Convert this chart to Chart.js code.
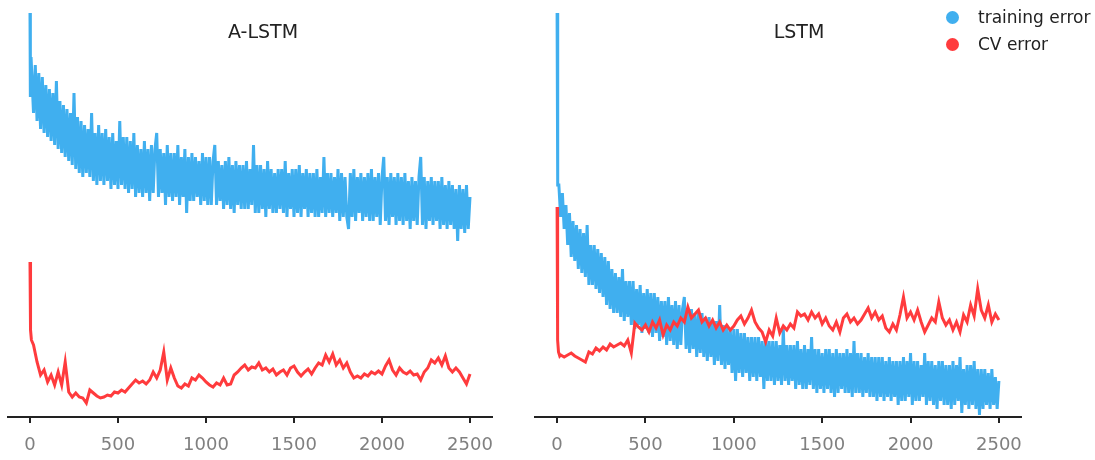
<!DOCTYPE html>
<html>
<head>
<meta charset="utf-8">
<script src="https://cdn.jsdelivr.net/npm/chart.js@4/dist/chart.umd.min.js"></script>
<style>
body { margin: 0; background: #fff; width: 1095px; height: 460px; position: relative; overflow: hidden; font-family: "DejaVu Sans", sans-serif; }
canvas { position: absolute; top: 0; }
#leftChart { left: 0; }
#rightChart { left: 526px; }
.title { position: absolute; top: 31px; transform: translate(-50%, -50%); font-size: 19px; color: #222; line-height: 1; white-space: nowrap; }
.dot { position: absolute; width: 13px; height: 13px; border-radius: 50%; }
.label { position: absolute; left: 978px; transform: translateY(-50%); font-size: 17px; color: #222; line-height: 1; white-space: nowrap; }
</style>
</head>
<body>
<canvas id="leftChart" width="526" height="460"></canvas>
<canvas id="rightChart" width="569" height="460"></canvas>
<div class="title" style="left:263px">A-LSTM</div>
<div class="title" style="left:799px">LSTM</div>
<div class="dot" style="left:946px; top:11px; background:#40afef"></div>
<div class="label" style="top:17px">training error</div>
<div class="dot" style="left:946px; top:38px; background:#ff3b3d"></div>
<div class="label" style="top:44px">CV error</div>
<script>
var tickValues = [0, 500, 1000, 1500, 2000, 2500];

// iteration grid for the CV curves (every 20 steps)
var steps = [20,40,60,80,100,120,140,160,180,200,220,240,260,280,300,320,340,360,380,400,
  420,440,460,480,500,520,540,560,580,600,620,640,660,680,700,720,740,760,780,800,
  820,840,860,880,900,920,940,960,980,1000,1020,1040,1060,1080,1100,1120,1140,1160,1180,1200,
  1220,1240,1260,1280,1300,1320,1340,1360,1380,1400,1420,1440,1460,1480,1500,1520,1540,1560,1580,1600,
  1620,1640,1660,1680,1700,1720,1740,1760,1780,1800,1820,1840,1860,1880,1900,1920,1940,1960,1980,2000,
  2020,2040,2060,2080,2100,2120,2140,2160,2180,2200,2220,2240,2260,2280,2300,2320,2340,2360,2380,2400,
  2420,2440,2460,2480,2500];

// finer grid for the noisy training curves (every 10 steps)
var fineSteps = [10,20,30,40,50,60,70,80,90,100,110,120,130,140,150,160,170,180,190,200,
  210,220,230,240,250,260,270,280,290,300,310,320,330,340,350,360,370,380,390,400,
  410,420,430,440,450,460,470,480,490,500,510,520,530,540,550,560,570,580,590,600,
  610,620,630,640,650,660,670,680,690,700,710,720,730,740,750,760,770,780,790,800,
  810,820,830,840,850,860,870,880,890,900,910,920,930,940,950,960,970,980,990,1000,
  1010,1020,1030,1040,1050,1060,1070,1080,1090,1100,1110,1120,1130,1140,1150,1160,1170,1180,1190,1200,
  1210,1220,1230,1240,1250,1260,1270,1280,1290,1300,1310,1320,1330,1340,1350,1360,1370,1380,1390,1400,
  1410,1420,1430,1440,1450,1460,1470,1480,1490,1500,1510,1520,1530,1540,1550,1560,1570,1580,1590,1600,
  1610,1620,1630,1640,1650,1660,1670,1680,1690,1700,1710,1720,1730,1740,1750,1760,1770,1780,1790,1800,
  1810,1820,1830,1840,1850,1860,1870,1880,1890,1900,1910,1920,1930,1940,1950,1960,1970,1980,1990,2000,
  2010,2020,2030,2040,2050,2060,2070,2080,2090,2100,2110,2120,2130,2140,2150,2160,2170,2180,2190,2200,
  2210,2220,2230,2240,2250,2260,2270,2280,2290,2300,2310,2320,2330,2340,2350,2360,2370,2380,2390,2400,
  2410,2420,2430,2440,2450,2460,2470,2480,2490,2500];

// A-LSTM
var alstmTrainHeadSteps = [0, 1, 3, 6];
var alstmTrainHead = [101, 88, 80, 90];
var alstmTrain = [90,76,88,74,86,72,85,71,83,70,
  82,69,81,68,84,67,79,66,78,65,
  77,64,76,63,81,62,75,61,74,60,
  73,61,72,60,76,59,71,58,73,59,
  71,58,72,59,70,57,71,58,69,57,
  74,58,70,57,70,56,69,57,71,55,
  68,56,67,55,69,56,67,54,68,56,
  67,71,55,67,56,66,53,68,55,66,
  54,66,55,68,53,65,55,67,51,65,
  54,66,54,65,55,64,53,66,54,65,
  53,65,53,64,68,53,64,54,63,52,
  64,53,65,52,63,51,64,53,63,52,
  63,52,64,52,62,53,68,51,63,51,
  63,52,62,50,64,52,62,51,61,51,
  62,52,62,51,64,50,61,52,62,50,
  62,51,63,50,61,52,62,50,61,51,
  61,50,62,50,60,51,65,50,61,51,
  61,50,60,51,62,49,61,50,60,50,
  47,61,50,62,49,60,51,61,49,60,
  50,61,49,62,49,60,50,61,48,60,
  65,49,60,48,61,50,60,48,61,49,
  60,48,61,49,59,47,60,49,59,48,
  60,65,48,60,47,59,49,60,48,59,
  49,59,47,60,48,58,47,59,48,58,
  47,57,44,58,47,57,46,58,47,55];

var alstmCvHeadSteps = [0, 3, 8];
var alstmCvHead = [38.75, 21.75, 19.25];
var alstmCv = [18,13.75,10.5,11.75,8.75,10.5,8,11.25,8,13.75,
  6.25,5,6,5,4.75,3.5,6.75,6,5.25,4.75,
  5,5.5,5.25,6.25,6,6.75,6.25,7.25,8.25,9.25,
  8.5,9,8.25,9.25,11.25,9.75,11.75,16.25,9.25,12.25,
  9.75,7.75,7.25,8.25,7.75,9.75,9.25,10.5,9.75,8.75,
  8,7.5,8.5,8,9.75,8,8.25,10.5,11.25,12.25,
  13,11.75,12.5,12.25,13.5,11.75,12.25,11.25,12,10.5,
  11.25,11.75,10.5,12.25,12.75,11.25,10.25,11.25,12,10.75,
  12.25,13.5,13,15.5,13.75,15.75,13,14.25,12.25,13.5,
  11.25,9.75,10.25,9.75,10.75,10.25,11.25,10.75,11.5,10.75,
  12.75,14.25,11.75,10.5,12.25,11.25,10.75,11.5,10.5,10.75,
  9.25,11.25,12.25,14.25,13.5,14.75,13,15.25,12.25,11.25,
  12.25,11.25,9.75,8.25,10.75];

// LSTM
var lstmTrainHeadSteps = [0, 2, 5];
var lstmTrainHead = [101, 66, 58];
var lstmTrain = [58,50,56,47,53,43,51,40,49,39,
  48,37,47,36,46,35,48,33,43,33,
  43,32,42,31,41,30,40,28,39,27,
  37,26,36,26,35,25,37,24,34,25,
  34,23,34,22,32,23,33,21,31,22,
  32,21,31,20,31,21,30,19,29,20,
  29,18,30,19,28,18,29,17,28,18,
  27,30,17,27,16,27,17,26,15,26,
  16,26,15,25,14,25,15,24,13,24,
  14,28,13,23,12,23,13,22,11,22,
  9,22,11,21,10,21,11,20,9,20,
  10,20,9,20,10,19,7,20,9,19,
  9,19,8,19,9,18,8,22,9,18,
  8,18,9,18,7,19,8,17,7,18,
  7,17,8,20,7,17,6,17,7,16,
  6,17,7,17,6,16,5,17,6,16,
  7,16,6,17,6,16,5,19,6,16,
  6,16,5,15,6,16,5,15,5,15,
  4,15,5,15,4,14,5,15,4,14,
  5,14,3,14,4,15,4,14,5,16,
  3,14,4,14,4,13,5,16,3,14,
  4,14,3,13,2,14,4,14,3,13,
  3,13,2,14,3,13,4,15,1,12,
  3,13,2,13,3,14,2,12,0.5,12,
  2,12,3,11,2,12,3,10,2,9];

var lstmCvHeadSteps = [0, 3, 8, 15];
var lstmCvHead = [52.5, 19.25, 16.25, 15.25];
var lstmCv = [15.5,15,15.5,16,15.25,14.75,14.25,13.75,16.25,15.75,
  17.25,16.5,17.5,16.75,18.25,17.5,18,18.5,17.75,19.25,
  16,23.5,22.5,21.75,23,21.25,23.75,22.25,24.25,20.5,
  23,21.75,23.75,22.75,24.75,23.75,27.5,24.75,25.75,26.75,
  23.75,24.75,22.75,24.25,22.25,23.75,21.75,23,21.75,22.75,
  24.25,25.25,23.25,24.75,26.75,23.75,22.25,21.25,18.75,21.75,
  20.25,24.75,21,22.75,21.75,23.25,22.25,26.25,25.25,25.75,
  24.25,26.25,24.75,25.75,23.25,24.75,22.75,21.75,23.75,21.25,
  24.75,25.75,23.75,24.75,23.25,24.25,25.75,27.25,24.75,26.25,
  24.25,25.25,22.25,21.25,23.25,21.75,25.5,30,24.75,26.25,
  24.25,26.75,23.75,21.25,23,24.75,23.75,28.75,24.75,23,
  24.25,21.75,23.75,21.25,25.5,23.75,28,25.25,32,26.75,
  24.75,28,23.75,25.75,24.25];

var trainColor = "#40afef";
var cvColor = "#ff3b3d";

function makePoints(headSteps, grid, headVals, vals)
{
    var xs = headSteps.concat(grid);
    var ys = headVals.concat(vals);
    return xs.map(function(x, i) { return { x: x, y: ys[i] }; });
}

function makeChart(id, train, cv, pad)
{
    return new Chart(document.getElementById(id),
    {
        type: "line",
        data: {
            datasets: [
                { label: "CV error", data: cv, borderColor: cvColor, borderWidth: 3 },
                { label: "training error", data: train, borderColor: trainColor, borderWidth: 3 }
            ]
        },
        options: {
            responsive: false,
            animation: false,
            layout: { padding: pad },
            elements: { point: { radius: 0 }, line: { tension: 0 } },
            plugins: { legend: { display: false }, tooltip: { enabled: false } },
            scales: {
                x: {
                    type: "linear",
                    min: -125,
                    max: 2625,
                    afterBuildTicks: function(scale) {
                        scale.ticks = tickValues.map(function(v) { return { value: v }; });
                    },
                    afterFit: function(scale) { scale.height = 43; },
                    grid: { drawOnChartArea: false, color: "#222", lineWidth: 2, tickLength: 6 },
                    border: { display: true, color: "#222", width: 2 },
                    ticks: {
                        color: "#808080",
                        padding: 12,
                        maxRotation: 0,
                        font: { family: "DejaVu Sans", size: 18 },
                        callback: function(v) { return String(v); }
                    }
                },
                y: { display: false, min: 0, max: 102 }
            }
        }
    });
}

makeChart("leftChart",
    makePoints(alstmTrainHeadSteps, fineSteps, alstmTrainHead, alstmTrain),
    makePoints(alstmCvHeadSteps, steps, alstmCvHead, alstmCv),
    { left: 8, right: 34, top: 9, bottom: 0 });

makeChart("rightChart",
    makePoints(lstmTrainHeadSteps, fineSteps, lstmTrainHead, lstmTrain),
    makePoints(lstmCvHeadSteps, steps, lstmCvHead, lstmCv),
    { left: 9, right: 74, top: 9, bottom: 0 });
</script>
</body>
</html>
